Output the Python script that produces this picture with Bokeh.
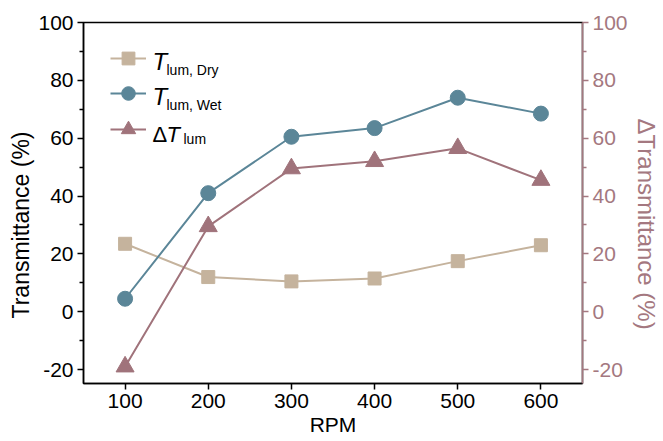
import math
from bokeh.plotting import figure
from bokeh.models import (Range1d, LinearAxis, Legend, LegendItem, Label,
                          FixedTicker, PrintfTickFormatter, Title)
from bokeh.embed import file_html
from bokeh.resources import INLINE

rpm = [100, 200, 300, 400, 500, 600]
t_dry = [23.5, 12.0, 10.5, 11.5, 17.5, 23.0]
t_wet = [4.5, 41.0, 60.5, 63.5, 74.0, 68.5]
delta_t = [-19.0, 29.5, 49.5, 52.0, 56.5, 45.5]
y_ticks = [-20, 0, 20, 40, 60, 80, 100]
y_minor = [-10, 10, 30, 50, 70, 90]

C_DRY = "#c5b39d"
C_WET = "#5b8698"
C_DEL = "#a0737b"
C_AX2 = "#a47880"
FONT = "Liberation Sans"

W, H = 663, 441
FL, FB = 83, 383  # frame left / bottom in canvas pixels
p = figure(width=W, height=H, output_backend="svg", toolbar_location=None,
           x_range=Range1d(50, 650), y_range=Range1d(-24.8, 100),
           min_border_left=83, min_border_right=75, min_border_top=22,
           min_border_bottom=58)
p.extra_y_ranges = {"right": Range1d(-24.8, 100)}
p.xgrid.visible = False
p.ygrid.visible = False
p.outline_line_color = "black"
p.outline_line_width = 1.5
p.background_fill_color = "white"
p.border_fill_color = "white"

def style_axis(ax, color):
    ax.axis_line_color = color
    ax.axis_line_width = 1.5
    ax.major_tick_line_color = color
    ax.minor_tick_line_color = color
    ax.major_tick_line_width = 1.5
    ax.minor_tick_line_width = 1.5
    ax.major_tick_out = 6
    ax.major_tick_in = 0
    ax.minor_tick_out = 4
    ax.minor_tick_in = 0
    ax.major_label_text_color = color
    ax.major_label_text_font = FONT
    ax.major_label_text_font_size = "21px"
    ax.axis_label_text_color = color
    ax.axis_label_text_font = FONT
    ax.axis_label_text_font_size = "21px"
    ax.axis_label_text_font_style = "normal"
    ax.formatter = PrintfTickFormatter(format="%d")

xa = p.xaxis[0]
xa.ticker = FixedTicker(ticks=rpm)
xa.axis_label = "RPM"
style_axis(xa, "black")
xa.major_label_standoff = 4
xa.axis_label_standoff = 2

ya = p.yaxis[0]
ya.ticker = FixedTicker(ticks=y_ticks, minor_ticks=y_minor)
style_axis(ya, "black")
ya.major_label_standoff = 4

ya2 = LinearAxis(y_range_name="right",
                 ticker=FixedTicker(ticks=y_ticks, minor_ticks=y_minor))
style_axis(ya2, C_AX2)
ya2.major_label_standoff = 4
p.add_layout(ya2, "right")

# axis titles (as side titles so they can be shifted along the axis)
t_left = Title(text="Transmittance (%)", align="left", offset=65,
               text_font=FONT, text_font_size="23px",
               text_font_style="normal", text_color="black", standoff=4)
p.add_layout(t_left, "left")
t_right = Title(text="\u0394Transmittance (%)", align="left", offset=96,
                text_font=FONT, text_font_size="24px",
                text_font_style="normal", text_color=C_AX2, standoff=4)
p.add_layout(t_right, "right")

r_dry = p.line(rpm, t_dry, line_color=C_DRY, line_width=2)
s_dry = p.scatter(rpm, t_dry, marker="square", size=13, fill_color=C_DRY,
                  line_color=C_DRY)
r_wet = p.line(rpm, t_wet, line_color=C_WET, line_width=2)
s_wet = p.scatter(rpm, t_wet, marker="circle", size=15, fill_color=C_WET,
                  line_color=C_WET)
r_del = p.line(rpm, delta_t, line_color=C_DEL, line_width=2,
               y_range_name="right")
s_del = p.scatter(rpm, delta_t, marker="triangle", size=18, fill_color=C_DEL,
                  line_color=C_DEL, y_range_name="right")

def add_legend(renderers, cy, h):
    lg = Legend(items=[LegendItem(label="", renderers=renderers)],
                location=(27, FB - (cy + h / 2)), glyph_width=36,
                glyph_height=h, label_width=0, label_standoff=0, padding=0,
                margin=0, border_line_color=None, background_fill_alpha=0,
                label_height=h)
    p.add_layout(lg, "center")

add_legend([r_dry, s_dry], 58, 32)
add_legend([r_wet, s_wet], 93, 34)
add_legend([r_del, s_del], 129, 40)

def lab(text, x, y, size, italic=False):
    p.add_layout(Label(x=x - FL, y=FB - y, x_units="screen", y_units="screen",
                       text=text, text_font=FONT, text_font_size=size,
                       text_font_style="italic" if italic else "normal",
                       text_baseline="alphabetic", text_align="left",
                       text_color="black"))

lab("T", 152, 61, "24px", True)
lab("lum, Dry", 166, 69, "14px")
lab("T", 152, 96, "24px", True)
lab("lum, Wet", 166, 104, "14px")
lab("\u0394", 152, 134, "22px")
lab("T", 166, 134, "22px", True)
lab("lum", 183, 138, "14px")

open("out.html", "w").write(file_html(p, INLINE))
